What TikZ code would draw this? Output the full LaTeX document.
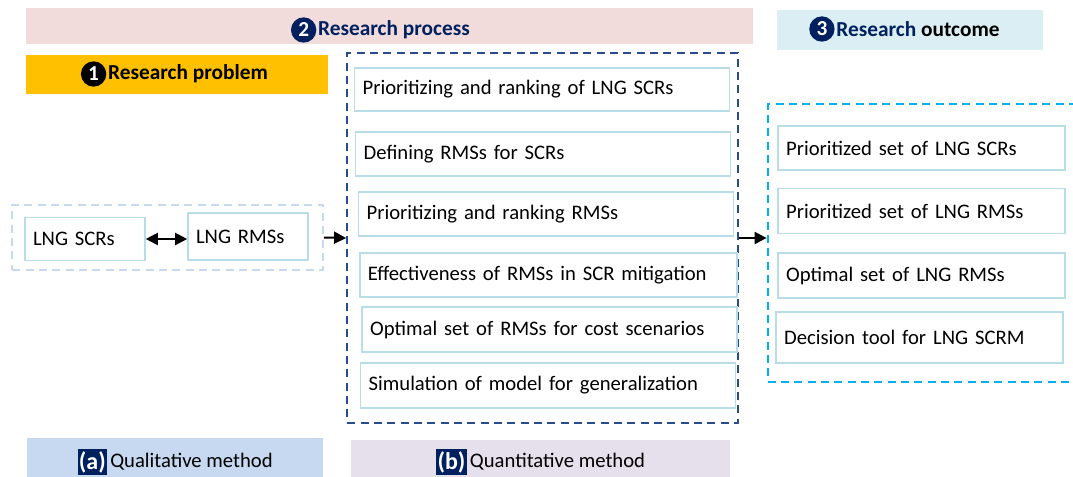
\documentclass[tikz,border=0pt]{standalone}
\usepackage{fontspec}
\setmainfont{Carlito}
\usetikzlibrary{positioning,arrows.meta}
\definecolor{navy}{RGB}{0,32,96}
\definecolor{boxline}{RGB}{183,222,232}
\definecolor{procdash}{RGB}{40,75,140}
\definecolor{outdash}{RGB}{0,176,240}
\definecolor{grpdash}{RGB}{198,217,241}
\definecolor{pinkband}{RGB}{242,220,219}
\definecolor{orangeband}{RGB}{255,192,0}
\definecolor{blueband}{RGB}{218,238,243}
\definecolor{qualband}{RGB}{198,217,240}
\definecolor{quantband}{RGB}{229,224,236}

\begin{document}
\begin{tikzpicture}[x=0.75pt,y=-0.75pt,
    every node/.style={font=\fontsize{15.5}{19}\selectfont},
    band/.style={fill=#1,draw=none,inner sep=0pt},
    headtext/.style={font=\bfseries\fontsize{16}{19}\selectfont,inner sep=0pt},
    numdot/.style={circle,fill=#1,text=white,inner sep=0pt,minimum size=19pt,font=\bfseries\fontsize{16}{16}\selectfont},
    stepbox/.style={draw=boxline,line width=1.2pt,align=left,inner xsep=6pt,inner ysep=0pt,text width=#1},
    groupbox/.style={draw=#1,line width=1.6pt,inner sep=0pt,dash pattern=on 6pt off 4pt},
    tagbox/.style={fill=navy,text=white,inner xsep=1pt,inner ysep=2pt,font=\bfseries\fontsize{18}{19}\selectfont},
    flow/.style={line width=1.5pt,-{Triangle[length=9pt,width=9pt]}}]
    \useasboundingbox (0,0) rectangle (1073,477);

    % header bands
    \node[band=pinkband,minimum width=545pt,minimum height=27pt] (band2) at (389.5,26) {};
    \node[band=orangeband,minimum width=226pt,minimum height=29pt] (band1) at (177,74.5) {};
    \node[band=blueband,minimum width=200pt,minimum height=30pt] (band3) at (910,30) {};
    \node[headtext,text=navy] (head2) at (394,30) {Research process};
    \node[numdot=navy,left=1pt of head2] (num2) {2};
    \node[headtext] (head1) at (188,74) {Research problem};
    \node[numdot=black,left=1pt of head1] (num1) {1};
    \node[headtext] (head3) at (918,29) {\textcolor{navy}{Research} outcome};
    \node[numdot=navy,left=1pt of head3] (num3) {3};

    % research problem
    \node[groupbox=grpdash,minimum width=233pt,minimum height=49pt] (grp) at (167.5,237.5) {};
    \node[stepbox=78pt,minimum height=32pt] (scr) at (85,239) {LNG SCRs};
    \node[stepbox=78pt,minimum height=35pt] (rms) at (248,236.5) {LNG RMSs};

    % research process
    \node[groupbox=procdash,minimum width=293pt,minimum height=277pt] (proc) at (542.5,238) {};
    \node[stepbox=269pt,minimum height=32pt] (p1) at (542,89.5) {Prioritizing and ranking of LNG SCRs};
    \node[stepbox=269pt,minimum height=33pt] (p2) at (543,154) {Defining RMSs for SCRs};
    \node[stepbox=269pt,minimum height=33pt] (p3) at (546,214) {Prioritizing and ranking RMSs};
    \node[stepbox=271pt,minimum height=33pt] (p4) at (548.5,275) {Effectiveness of RMSs in SCR mitigation};
    \node[stepbox=269pt,minimum height=34pt] (p5) at (549.5,329.5) {Optimal set of RMSs for cost scenarios};
    \node[stepbox=269pt,minimum height=34pt] (p6) at (548,385.5) {Simulation of model for generalization};

    % research outcome
    \node[groupbox=outdash,minimum width=242pt,minimum height=208pt] (out) at (929,243) {};
    \node[stepbox=203pt,minimum height=33pt] (o1) at (921.5,148) {Prioritized set of LNG SCRs};
    \node[stepbox=203pt,minimum height=34pt] (o2) at (921.5,211) {Prioritized set of LNG RMSs};
    \node[stepbox=203pt,minimum height=34pt] (o3) at (921.5,275.5) {Optimal set of LNG RMSs};
    \node[stepbox=203pt,minimum height=38pt] (o4) at (919.5,337.5) {Decision tool for LNG SCRM};

    % methods
    \node[band=qualband,minimum width=222pt,minimum height=30pt] (qual) at (175,457.5) {};
    \node[band=quantband,minimum width=284pt,minimum height=28pt] (quant) at (540.5,458.5) {};
    \node[inner sep=0pt] (qualtext) at (191.5,462) {Qualitative method};
    \node[tagbox,left=2pt of qualtext] (taga) {(a)};
    \node[inner sep=0pt] (quanttext) at (557.5,462) {Quantitative method};
    \node[tagbox,left=2pt of quanttext] (tagb) {(b)};

    \draw [line width=1.5pt,{Triangle[length=9pt,width=9pt]}-{Triangle[length=9pt,width=9pt]}] (scr) -- (scr -| rms.west);
    \draw [flow] (grp.east) -- (proc.west);
    \draw [flow] (proc.east) -- (proc.east -| out.west);
\end{tikzpicture}
\end{document}
